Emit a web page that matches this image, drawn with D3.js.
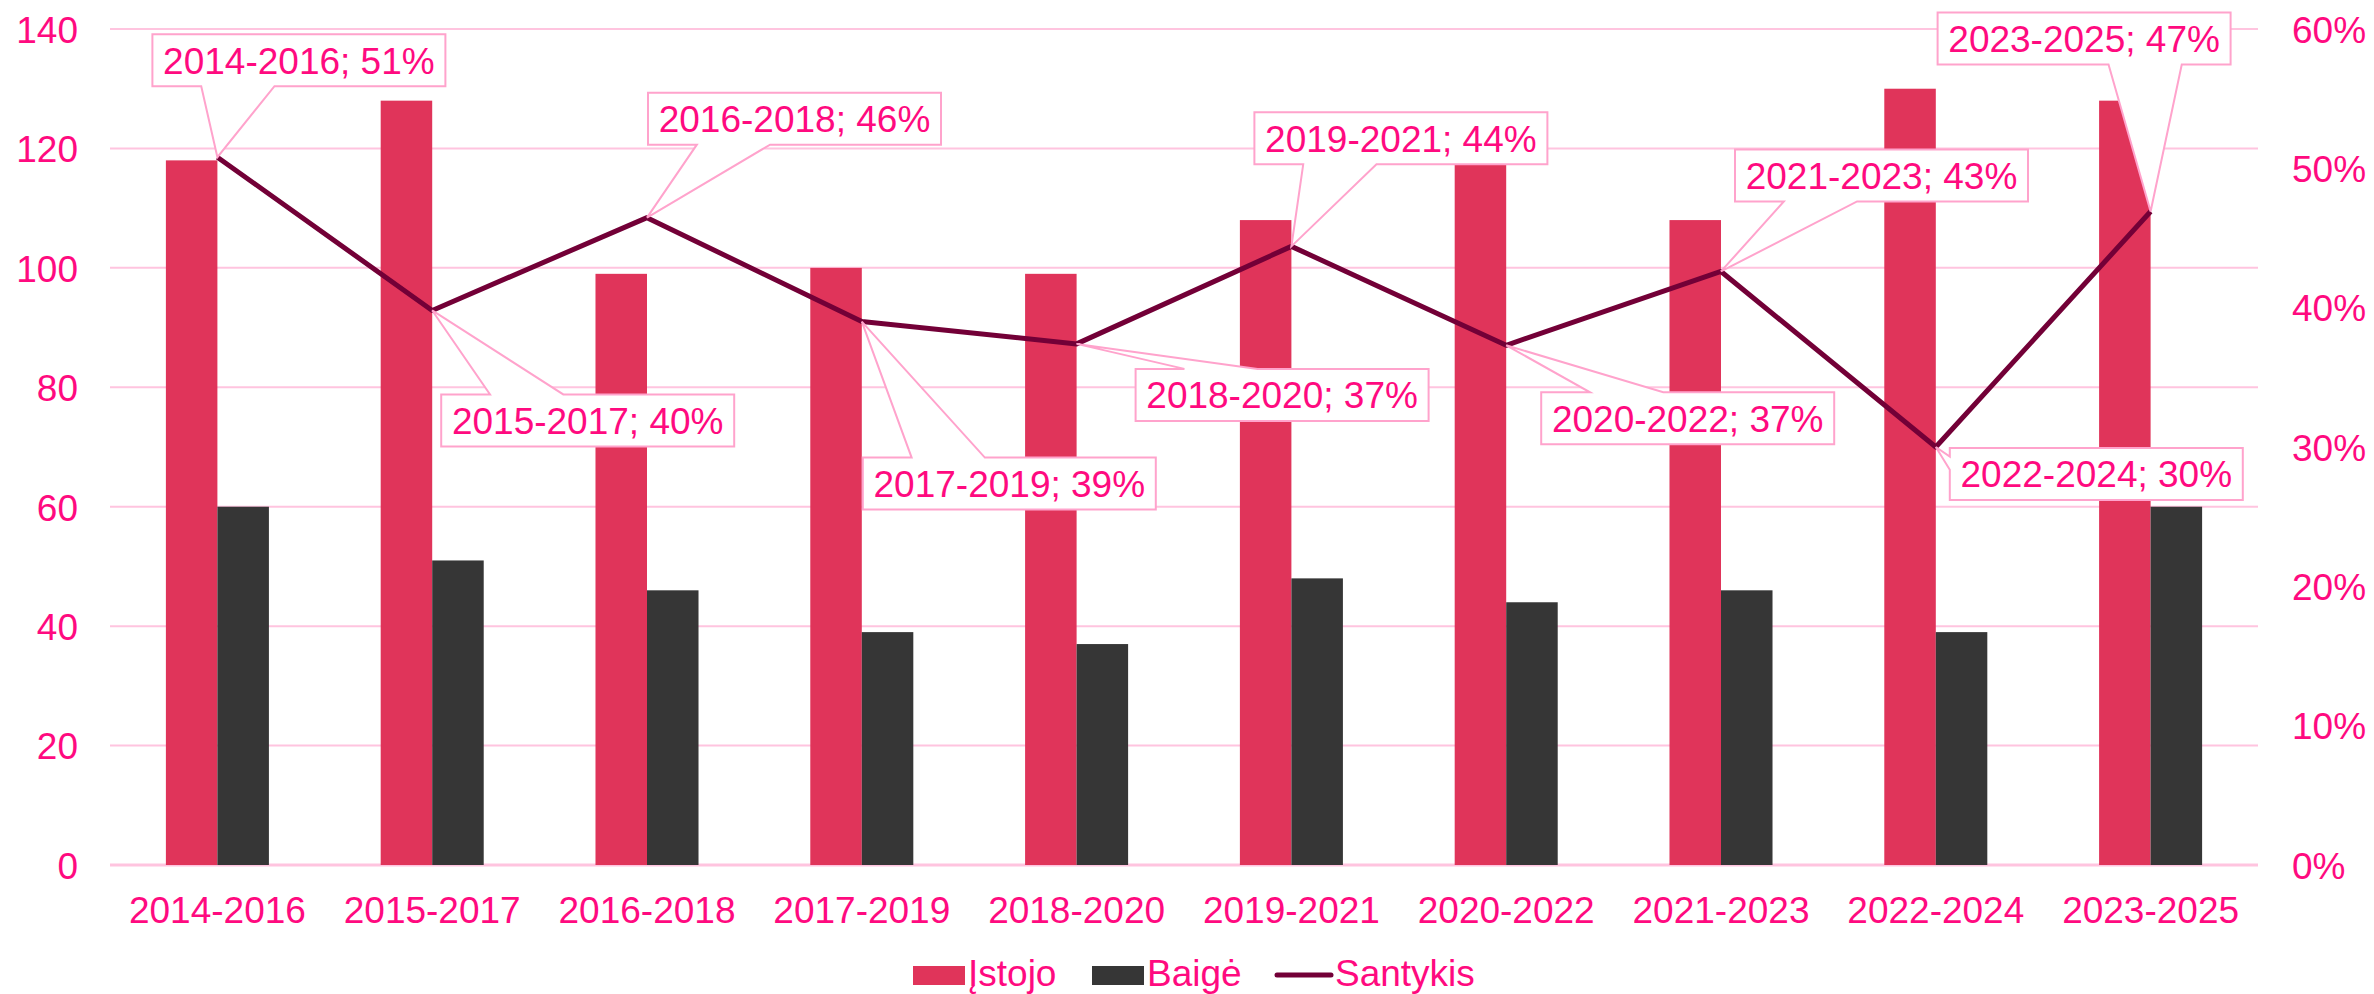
<!DOCTYPE html>
<html>
<head>
<meta charset="utf-8">
<script src="https://cdn.jsdelivr.net/npm/d3@7"></script>
<style>
 body { margin: 0; background: #fff; }
 text { font-family: "Liberation Sans", Arial, sans-serif; }
</style>
</head>
<body>
<script>
const width = 2374;
const height = 994;

const categories = ["2014-2016", "2015-2017", "2016-2018", "2017-2019", "2018-2020",
 "2019-2021", "2020-2022", "2021-2023", "2022-2024", "2023-2025"];
const istojo = [118, 128, 99, 100, 99, 108, 118, 108, 130, 128];
const baige = [60, 51, 46, 39, 37, 48, 44, 46, 39, 60];
const santykis = [0.508, 0.398, 0.4646, 0.39, 0.374, 0.444, 0.373, 0.426, 0.30, 0.469];
const leftTicks = [0, 20, 40, 60, 80, 100, 120, 140];
const rightTicks = [0, 0.1, 0.2, 0.3, 0.4, 0.5, 0.6];
const seriesNames = ["Įstojo", "Baigė", "Santykis"];

// callout box offsets (top-left of box relative to the point)
const calloutOffsets = [[-65, -123], [9, 84], [1, -125], [1, 136], [59, 25],
 [-37, -134], [35, 47], [14, -122], [14, 1], [-213, -199]];

const pink = "#ff0a7f";
const grid = "#ffc4df";
const boxLine = "#ffa3cc";
const red = "#e0345a";
const dark = "#363636";
const lineCol = "#730037";

const plotLeft = 110, plotRight = 2258, plotTop = 29, plotBottom = 865;

var svg = d3.select("body").append("svg")
 .attr("width", width)
 .attr("height", height);

const x = d3.scaleBand().domain(categories).range([plotLeft, plotRight]).padding(0);
const x1 = d3.scaleBand().domain(["istojo", "baige"]).range([0, x.bandwidth()]).paddingInner(0).paddingOuter(1.085);
const y = d3.scaleLinear().domain([0, 140]).range([plotBottom, plotTop]);
const y2 = d3.scaleLinear().domain([0, 0.6]).range([plotBottom, plotTop]);

// gridlines
svg.append("g").selectAll("line")
 .data(leftTicks)
 .enter().append("line")
 .attr("x1", plotLeft).attr("x2", plotRight)
 .attr("y1", d => y(d)).attr("y2", d => y(d))
 .attr("stroke", grid)
 .attr("stroke-width", d => d == 0 ? 3 : 2);

// left axis
const yAxis = svg.append("g")
 .attr("transform", "translate(" + (plotLeft - 32) + ",0)")
 .call(d3.axisLeft(y).tickValues(leftTicks).tickSize(0).tickPadding(0));
yAxis.select(".domain").remove();
yAxis.selectAll("text").attr("fill", pink).attr("font-size", 37).attr("dy", "0.36em")
 .style("font-family", "Liberation Sans, Arial, sans-serif");

// right axis
const y2Axis = svg.append("g")
 .attr("transform", "translate(" + (plotRight + 34) + ",0)")
 .call(d3.axisRight(y2).tickValues(rightTicks).tickFormat(d3.format(".0%")).tickSize(0).tickPadding(0));
y2Axis.select(".domain").remove();
y2Axis.selectAll("text").attr("fill", pink).attr("font-size", 37).attr("dy", "0.36em")
 .style("font-family", "Liberation Sans, Arial, sans-serif");

// x axis labels
const xAxis = svg.append("g")
 .attr("transform", "translate(0," + plotBottom + ")")
 .call(d3.axisBottom(x).tickSize(0).tickPadding(0));
xAxis.select(".domain").remove();
xAxis.selectAll("text").attr("fill", pink).attr("font-size", 37).attr("dy", 0).attr("y", 58)
 .style("font-family", "Liberation Sans, Arial, sans-serif");

// bars
const groups = svg.append("g").selectAll("g")
 .data(categories)
 .enter().append("g")
 .attr("transform", d => "translate(" + x(d) + ",0)");

groups.append("rect")
 .attr("x", x1("istojo"))
 .attr("width", x1.bandwidth())
 .attr("y", (d, i) => y(istojo[i]))
 .attr("height", (d, i) => y(0) - y(istojo[i]))
 .attr("fill", red);

groups.append("rect")
 .attr("x", x1("baige"))
 .attr("width", x1.bandwidth())
 .attr("y", (d, i) => y(baige[i]))
 .attr("height", (d, i) => y(0) - y(baige[i]))
 .attr("fill", dark);

// ratio line
const pts = categories.map((c, i) => [x(c) + x.bandwidth() / 2, y2(santykis[i])]);
svg.append("path")
 .attr("d", d3.line()(pts))
 .attr("fill", "none")
 .attr("stroke", lineCol)
 .attr("stroke-width", 5)
 .attr("stroke-linejoin", "round");

// callout labels
const bw = 293, bh = 52;
function calloutPath(tx, ty, bx, by) {
 const cx = bx + bw / 2, cy = by + bh / 2;
 const nx = (tx - cx) / bw, ny = (ty - cy) / bh;
 const a = bw / 6, b = bw * 5 / 12, av = bh / 6, bv = bh * 5 / 12;
 const p = d3.path();
 p.moveTo(bx, by);
 if (Math.abs(ny) >= Math.abs(nx) && ny < 0) {
  if (nx < 0) { p.lineTo(bx + a, by); p.lineTo(tx, ty); p.lineTo(bx + b, by); }
  else { p.lineTo(bx + bw - b, by); p.lineTo(tx, ty); p.lineTo(bx + bw - a, by); }
 }
 p.lineTo(bx + bw, by);
 if (Math.abs(nx) > Math.abs(ny) && nx > 0) {
  if (ny < 0) { p.lineTo(bx + bw, by + av); p.lineTo(tx, ty); p.lineTo(bx + bw, by + bv); }
  else { p.lineTo(bx + bw, by + bh - bv); p.lineTo(tx, ty); p.lineTo(bx + bw, by + bh - av); }
 }
 p.lineTo(bx + bw, by + bh);
 if (Math.abs(ny) >= Math.abs(nx) && ny > 0) {
  if (nx < 0) { p.lineTo(bx + b, by + bh); p.lineTo(tx, ty); p.lineTo(bx + a, by + bh); }
  else { p.lineTo(bx + bw - a, by + bh); p.lineTo(tx, ty); p.lineTo(bx + bw - b, by + bh); }
 }
 p.lineTo(bx, by + bh);
 if (Math.abs(nx) > Math.abs(ny) && nx < 0) {
  if (ny < 0) { p.lineTo(bx, by + bv); p.lineTo(tx, ty); p.lineTo(bx, by + av); }
  else { p.lineTo(bx, by + bh - av); p.lineTo(tx, ty); p.lineTo(bx, by + bh - bv); }
 }
 p.closePath();
 return p.toString();
}

const callouts = svg.append("g").selectAll("g")
 .data(categories)
 .enter().append("g");

callouts.append("path")
 .attr("d", (d, i) => calloutPath(pts[i][0], pts[i][1],
  pts[i][0] + calloutOffsets[i][0], pts[i][1] + calloutOffsets[i][1]))
 .attr("fill", "#fff")
 .attr("stroke", boxLine)
 .attr("stroke-width", 2);

callouts.append("text")
 .attr("x", (d, i) => pts[i][0] + calloutOffsets[i][0] + bw / 2)
 .attr("y", (d, i) => pts[i][1] + calloutOffsets[i][1] + bh / 2)
 .attr("dy", "0.36em")
 .attr("text-anchor", "middle")
 .attr("font-size", 37)
 .attr("fill", pink)
 .text((d, i) => d + "; " + d3.format(".0%")(santykis[i]));

// legend
const legendX = [913, 1092, 1275];
const legend = svg.append("g").selectAll("g")
 .data(seriesNames)
 .enter().append("g")
 .attr("transform", (d, i) => "translate(" + legendX[i] + ",975)");

legend.filter((d, i) => i < 2).append("rect")
 .attr("x", 0).attr("y", -9)
 .attr("width", 52).attr("height", 19)
 .attr("fill", (d, i) => i == 0 ? red : dark);

legend.filter((d, i) => i == 2).append("line")
 .attr("x1", 2).attr("x2", 56)
 .attr("y1", 0).attr("y2", 0)
 .attr("stroke", lineCol)
 .attr("stroke-width", 5)
 .attr("stroke-linecap", "round");

legend.append("text")
 .attr("x", (d, i) => i == 2 ? 60 : 55)
 .attr("y", 11)
 .attr("font-size", 37)
 .attr("fill", pink)
 .text(d => d);
</script>
</body>
</html>
